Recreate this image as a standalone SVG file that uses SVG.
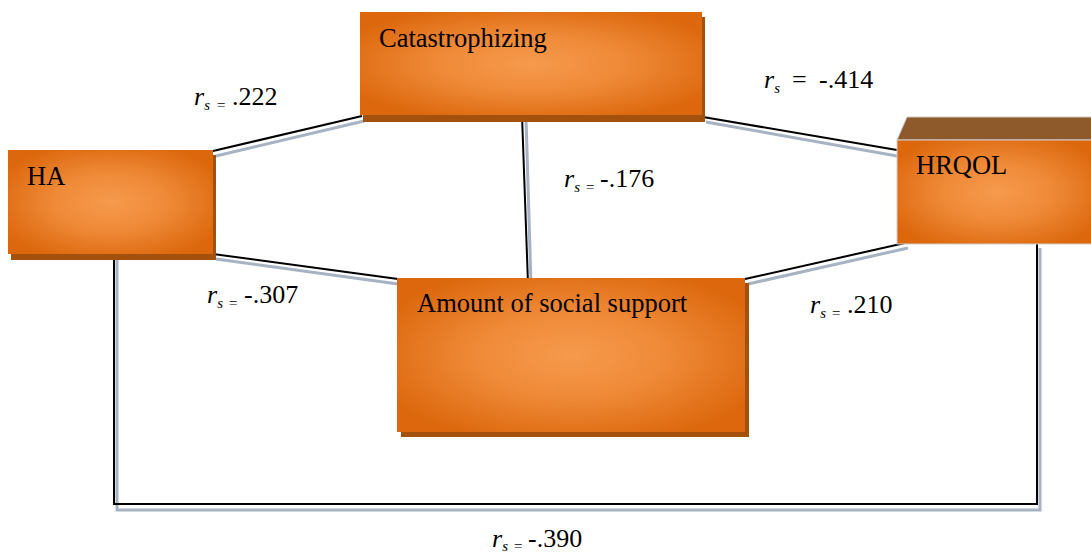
<svg xmlns="http://www.w3.org/2000/svg" width="1091" height="553" viewBox="0 0 1091 553">
  <defs>
    <radialGradient id="boxFill" cx="0.5" cy="0.5" r="0.6">
      <stop offset="0" stop-color="#f69a4c"/>
      <stop offset="0.45" stop-color="#ef8a38"/>
      <stop offset="1" stop-color="#dc670c"/>
    </radialGradient>
  </defs>
  <style>
    .box { fill: url(#boxFill); }
    .shadow { fill: #a4510d; }
    .bevel { fill: #8f5a2b; stroke: #c9c9c9; stroke-width: 1; }
    .label { font-family: "Liberation Serif", "Times New Roman", serif; font-size: 26.5px; fill: #000; }
    .stat, .stat tspan { font-family: "Liberation Serif", "Times New Roman", serif; fill: #000; }
    .stat { font-size: 26px; }
    .stat .sub { font-size: 15px; }
    .it { font-style: italic; }
    .line { fill: none; stroke: #000; stroke-width: 2; }
    .halo { fill: none; stroke: #a7b2c2; stroke-width: 3; }
  </style>

  <rect width="1091" height="553" fill="#fff"/>

  <!-- links between the variables: a black stroke with a pale blue-grey shadow line -->
  <g id="connectors">
    <line class="halo" x1="216" y1="156" x2="364" y2="121"/>
    <line class="line" x1="213" y1="151" x2="362" y2="116"/>

    <line class="halo" x1="706" y1="122" x2="897" y2="156"/>
    <line class="line" x1="703" y1="117" x2="897" y2="150"/>

    <line class="halo" x1="526" y1="118" x2="531" y2="284"/>
    <line class="line" x1="522" y1="115" x2="528" y2="284"/>

    <line class="halo" x1="216" y1="259" x2="398" y2="284"/>
    <line class="line" x1="213" y1="254" x2="398" y2="279"/>

    <line class="halo" x1="748" y1="284" x2="908" y2="248"/>
    <line class="line" x1="745" y1="279" x2="905" y2="243"/>

    <polyline class="halo" points="117,260 117,510 1040,510 1040,248"/>
    <polyline class="line" points="114,254 114,504 1037,504 1037,244"/>
  </g>

  <g id="catastrophizing">
    <rect class="shadow" x="363" y="17" width="342" height="105"/>
    <rect class="box" x="360" y="12" width="342" height="103"/>
    <text class="label" x="379" y="47">Catastrophizing</text>
  </g>

  <g id="ha">
    <rect class="shadow" x="11" y="155" width="205" height="105"/>
    <rect class="box" x="8" y="150" width="205" height="104"/>
    <text class="label" x="27" y="185">HA</text>
  </g>

  <g id="social-support">
    <rect class="shadow" x="401" y="283" width="348" height="154"/>
    <rect class="box" x="397" y="278" width="348" height="154"/>
    <text class="label" x="417" y="312">Amount of social support</text>
  </g>

  <g id="hrqol">
    <polygon class="bevel" points="897,140 907,117 1092,117 1092,140"/>
    <rect class="box" x="897" y="140" width="200" height="104" stroke="#d0d0d0" stroke-width="1"/>
    <text class="label" x="916" y="174">HRQOL</text>
  </g>

  <!-- Spearman coefficients -->
  <g id="coefficients">
    <text class="stat" y="105"><tspan class="it" x="194">r</tspan><tspan class="it sub" dy="5">s</tspan><tspan class="sub" x="217">=</tspan><tspan x="232" dy="-5">.222</tspan></text>
    <text class="stat" y="88"><tspan class="it" x="764">r</tspan><tspan class="it sub" dy="5">s</tspan><tspan x="792" dy="-5">=</tspan><tspan x="819">-.414</tspan></text>
    <text class="stat" y="187"><tspan class="it" x="564">r</tspan><tspan class="it sub" dy="5">s</tspan><tspan class="sub" x="586">=</tspan><tspan x="600" dy="-5">-.176</tspan></text>
    <text class="stat" y="303"><tspan class="it" x="207">r</tspan><tspan class="it sub" dy="5">s</tspan><tspan class="sub" x="229">=</tspan><tspan x="244" dy="-5">-.307</tspan></text>
    <text class="stat" y="313"><tspan class="it" x="810">r</tspan><tspan class="it sub" dy="5">s</tspan><tspan class="sub" x="832">=</tspan><tspan x="847" dy="-5">.210</tspan></text>
    <text class="stat" y="547"><tspan class="it" x="492">r</tspan><tspan class="it sub" dy="4">s</tspan><tspan class="sub" x="514">=</tspan><tspan x="528" dy="-4">-.390</tspan></text>
  </g>
</svg>
